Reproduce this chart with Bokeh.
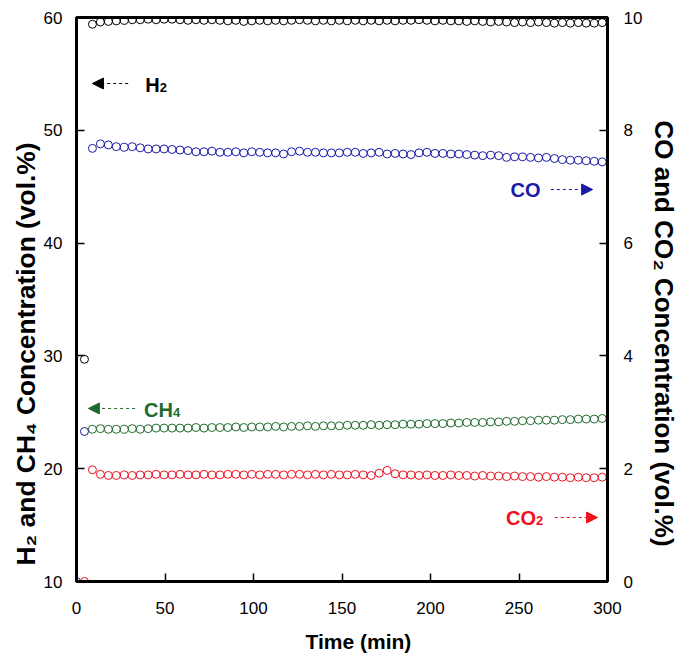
from bokeh.plotting import figure
from bokeh.models import Range1d, LinearAxis, FixedTicker, Label, Arrow, NormalHead, ColumnDataSource, Title
from bokeh.embed import file_html
from bokeh.resources import INLINE

nan = float("nan")

# ---- data ----
time_min = [0, 4.5, 9, 13.5, 18, 22.5, 27, 31.5, 36, 40.5, 45, 49.5, 54, 58.5, 63, 67.5,
            72, 76.5, 81, 85.5, 90, 94.5, 99, 103.5, 108, 112.5, 117, 121.5, 126, 130.5,
            135, 139.5, 144, 148.5, 153, 157.5, 162, 166.5, 171, 175.5, 180, 184.5, 189,
            193.5, 198, 202.5, 207, 211.5, 216, 220.5, 225, 229.5, 234, 238.5, 243, 247.5,
            252, 256.5, 261, 265.5, 270, 274.5, 279, 283.5, 288, 292.5, 297]

h2 = [nan, 29.7,
      59.4, 59.6, 59.65, 59.7, 59.75, 59.8, 59.8, 59.85, 59.8, 59.85,
      59.85, 59.8, 59.75, 59.8, 59.75, 59.8, 59.75, 59.7, 59.75, 59.65,
      59.7, 59.75, 59.7, 59.75, 59.7, 59.75, 59.8, 59.75, 59.7, 59.75,
      59.7, 59.75, 59.7, 59.75, 59.7, 59.75, 59.7, 59.75, 59.7, 59.75,
      59.75, 59.8, 59.75, 59.7, 59.75, 59.7, 59.7, 59.65, 59.7, 59.65,
      59.6, 59.65, 59.6, 59.55, 59.6, 59.55, 59.6, 59.55, 59.5, 59.55,
      59.5, 59.55, 59.5, 59.5, 59.55]

ch4 = [nan, nan,
       23.5, 23.55, 23.5, 23.5, 23.5, 23.55, 23.5, 23.55, 23.6, 23.6,
       23.6, 23.6, 23.6, 23.65, 23.6, 23.65, 23.65, 23.65, 23.7, 23.65,
       23.7, 23.7, 23.7, 23.75, 23.7, 23.75, 23.75, 23.8, 23.75, 23.8,
       23.8, 23.8, 23.85, 23.85, 23.85, 23.9, 23.85, 23.9, 23.9, 23.95,
       23.95, 23.95, 24.0, 24.0, 24.0, 24.05, 24.05, 24.1, 24.1, 24.1,
       24.15, 24.15, 24.2, 24.2, 24.25, 24.25, 24.3, 24.3, 24.3, 24.35,
       24.35, 24.4, 24.4, 24.4, 24.45]

co = [0.0, 2.66,
      7.68, 7.76, 7.74, 7.71, 7.70, 7.71, 7.69, 7.67, 7.67, 7.67,
      7.66, 7.65, 7.64, 7.62, 7.62, 7.63, 7.61, 7.61, 7.62, 7.60,
      7.62, 7.61, 7.60, 7.60, 7.58, 7.62, 7.63, 7.61, 7.61, 7.60,
      7.60, 7.60, 7.61, 7.61, 7.59, 7.60, 7.61, 7.58, 7.59, 7.58,
      7.57, 7.60, 7.61, 7.59, 7.59, 7.58, 7.58, 7.57, 7.56, 7.55,
      7.56, 7.55, 7.52, 7.53, 7.53, 7.52, 7.51, 7.52, 7.50, 7.48,
      7.47, 7.47, 7.46, 7.45, 7.44]

co2 = [nan, 0.0,
       1.98, 1.90, 1.88, 1.88, 1.89, 1.88, 1.89, 1.89, 1.90, 1.89,
       1.89, 1.90, 1.89, 1.89, 1.90, 1.89, 1.89, 1.90, 1.90, 1.89,
       1.90, 1.89, 1.90, 1.90, 1.89, 1.90, 1.90, 1.89, 1.90, 1.89,
       1.90, 1.89, 1.89, 1.90, 1.89, 1.88, 1.92, 1.97, 1.91, 1.89,
       1.89, 1.88, 1.89, 1.88, 1.88, 1.89, 1.88, 1.88, 1.87, 1.88,
       1.87, 1.87, 1.86, 1.87, 1.86, 1.86, 1.85, 1.86, 1.85, 1.85,
       1.84, 1.85, 1.84, 1.84, 1.85]

x_ticks = [0, 50, 100, 150, 200, 250, 300]
left_ticks = [10, 20, 30, 40, 50, 60]
right_ticks = [0, 2, 4, 6, 8, 10]

x_title = "Time (min)"
left_title = "H\u2082 and CH\u2084 Concentration (vol.%)"
right_title = "CO and CO\u2082 Concentration (vol.%)"

# ---- styling ----
FONT = "Liberation Sans"
C_H2 = "#000000"
C_CO = "#1a1aa8"
C_CH4 = "#1f6b2c"
C_CO2 = "#f0101e"

p = figure(width=683, height=663, output_backend="svg", toolbar_location=None,
           x_range=Range1d(0, 300), y_range=Range1d(10, 60),
           min_border_left=76, min_border_right=73, min_border_top=17, min_border_bottom=82)
p.extra_y_ranges = {"right": Range1d(0, 10)}
p.grid.visible = False
p.outline_line_color = "black"
p.outline_line_width = 3
p.background_fill_color = "white"
p.border_fill_color = "white"

src = ColumnDataSource(dict(t=time_min, h2=h2, ch4=ch4, co=co, co2=co2))

p.scatter("t", "h2", source=src, size=8, fill_alpha=0, line_color=C_H2, line_width=1)
p.scatter("t", "ch4", source=src, size=8, fill_alpha=0, line_color=C_CH4, line_width=1)
p.scatter("t", "co", source=src, size=8, fill_alpha=0, line_color=C_CO, line_width=1,
          y_range_name="right")
p.scatter("t", "co2", source=src, size=8, fill_alpha=0, line_color=C_CO2, line_width=1,
          y_range_name="right")

raxis = LinearAxis(y_range_name="right")
p.add_layout(raxis, "right")

for ax in [p.xaxis[0], p.yaxis[0], raxis]:
    ax.axis_line_width = 3
    ax.major_tick_in = 8
    ax.major_tick_out = 0
    ax.major_tick_line_width = 1.5
    ax.minor_tick_line_color = None
    ax.major_label_text_font = FONT
    ax.major_label_text_font_size = "17px"
    ax.major_label_text_color = "black"

p.xaxis[0].ticker = FixedTicker(ticks=x_ticks)
p.yaxis[0].ticker = FixedTicker(ticks=left_ticks)
raxis.ticker = FixedTicker(ticks=right_ticks)
p.xaxis[0].major_label_standoff = 20
p.yaxis[0].major_label_standoff = 14
raxis.major_label_standoff = 16

# axis titles as side-panel titles (offset moves them along the axis)
def side_title(txt, side, size, offset, standoff):
    p.add_layout(Title(text=txt, text_color="black", text_font=FONT,
                       text_font_style="bold", text_font_size=size,
                       align="left", offset=offset, standoff=standoff), side)

side_title(x_title, "below", "21px", 229, 22)
side_title(left_title, "left", "26.4px", 16, 0)
side_title(right_title, "right", "26px", 103, 6)

# ---- annotations ----
def arrow(x0, y0, x1, y1, color):
    p.add_layout(Arrow(x_start=x0, y_start=y0, x_end=x1, y_end=y1,
                       line_color=color, line_width=1, line_dash="3 3",
                       end=NormalHead(size=11, fill_color=color, line_color=color)))

def label(x, y, txt, sub, sub_dx, color):
    p.add_layout(Label(x=x, y=y, text=txt, text_color=color, text_font=FONT,
                       text_font_style="bold", text_font_size="20px",
                       text_align="left", text_baseline="middle"))
    if sub:
        p.add_layout(Label(x=x, y=y, x_offset=sub_dx, y_offset=-2, text=sub,
                           text_color=color, text_font=FONT,
                           text_font_style="bold", text_font_size="13px",
                           text_align="left", text_baseline="middle"))

arrow(29.2, 54.15, 9.0, 54.15, C_H2)
label(38.8, 54.0, "H", "2", 14.5, C_H2)

arrow(268.0, 44.75, 291.6, 44.75, C_CO)
label(245.2, 44.7, "CO", "", 0, C_CO)

arrow(33.1, 25.34, 6.7, 25.34, C_CH4)
label(38.2, 25.2, "CH", "4", 29.0, C_CH4)

arrow(270.2, 15.67, 294.4, 15.67, C_CO2)
label(242.7, 15.6, "CO", "2", 30.0, C_CO2)

open("out.html", "w").write(file_html(p, INLINE))
